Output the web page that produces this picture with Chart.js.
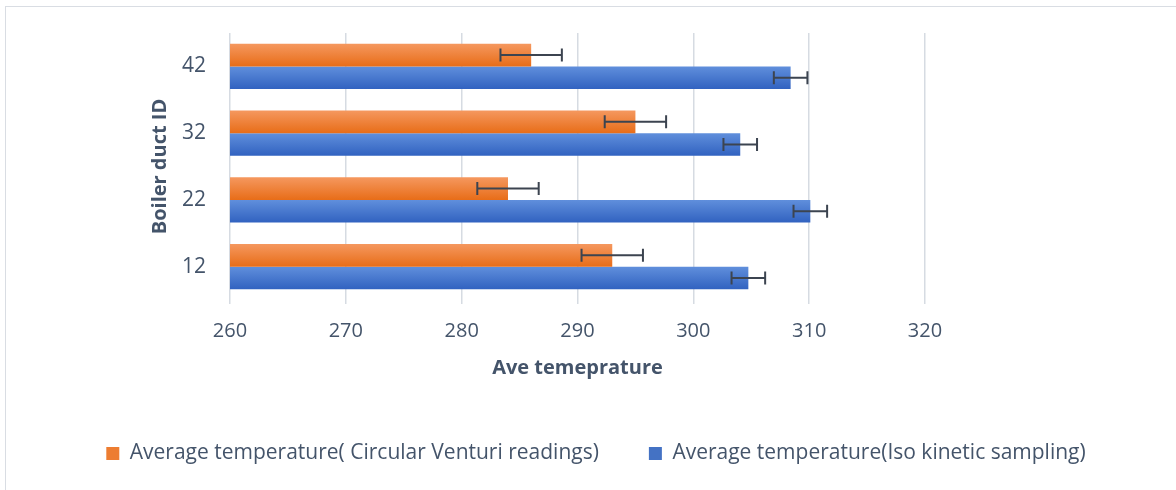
<!DOCTYPE html>
<html>
<head>
<meta charset="utf-8">
<script src="https://cdn.jsdelivr.net/npm/chart.js@4.4.0/dist/chart.umd.min.js"></script>
<style>
  html, body { margin: 0; padding: 0; background: #fff; }
  #wrap { position: relative; width: 1176px; height: 490px; overflow: hidden; }
  #frame { position: absolute; left: 5px; top: 6px; width: 1200px; height: 520px; border: 1px solid #d9dde3; }
  canvas { position: absolute; left: 0; top: 0; }
</style>
</head>
<body>
<div id="wrap">
  <div id="frame"></div>
  <canvas id="boilerChart" width="1176" height="490"></canvas>
</div>
<script>
// duct IDs, listed top to bottom as drawn
const ductIds = ['42', '32', '22', '12'];
const venturiTemps = [286.0, 295.0, 284.0, 293.0];
const venturiErr = [2.65, 2.65, 2.65, 2.65];
const isoTemps = [308.4, 304.05, 310.1, 304.75];
const isoErr = [1.45, 1.45, 1.45, 1.45];
const xMin = 260, xMax = 320, xStep = 10;

const seriesNames = [
  'Average temperature( Circular Venturi readings)',
  'Average temperature(Iso kinetic sampling)'
];

const textColor = '#44546a';
const fontFamily = '"Open Sans", "Noto Sans", sans-serif';
const groupShare = 0.68;

// vertical gradient for each bar, worked out from the category scale
function barGradient(topColor, bottomColor) {
  return function (context) {
    const chart = context.chart;
    const yScale = chart.scales.y;
    if (!chart.chartArea || !yScale || context.dataIndex === undefined) return bottomColor;
    const center = yScale.getPixelForValue(context.dataIndex);
    const half = chart.chartArea.height / ductIds.length * groupShare / 2;
    const y0 = context.datasetIndex === 0 ? center - half : center;
    const y1 = context.datasetIndex === 0 ? center : center + half;
    const g = chart.ctx.createLinearGradient(0, y0, 0, y1);
    g.addColorStop(0, topColor);
    g.addColorStop(1, bottomColor);
    return g;
  };
}

// error bars drawn on top of the bars
const errorBarPlugin = {
  id: 'errorBars',
  afterDatasetsDraw(chart) {
    const ctx = chart.ctx;
    const x = chart.scales.x;
    const sets = [[venturiTemps, venturiErr], [isoTemps, isoErr]];
    ctx.save();
    ctx.strokeStyle = '#3c4450';
    ctx.lineWidth = 2;
    sets.forEach(([vals, errs], di) => {
      chart.getDatasetMeta(di).data.forEach((bar, i) => {
        const y = bar.y;
        const xl = x.getPixelForValue(vals[i] - errs[i]);
        const xr = x.getPixelForValue(vals[i] + errs[i]);
        ctx.beginPath();
        ctx.moveTo(xl, y); ctx.lineTo(xr, y);
        ctx.moveTo(xl, y - 6.5); ctx.lineTo(xl, y + 6.5);
        ctx.moveTo(xr, y - 6.5); ctx.lineTo(xr, y + 6.5);
        ctx.stroke();
      });
    });
    ctx.restore();
  }
};

new Chart(document.getElementById('boilerChart'), {
  type: 'bar',
  data: {
    labels: ductIds,
    datasets: [{
      label: seriesNames[0],
      data: venturiTemps,
      yAxisID: 'y',
      backgroundColor: barGradient('#f5985f', '#e86d18'),
      barPercentage: 1,
      categoryPercentage: groupShare
    }, {
      label: seriesNames[1],
      data: isoTemps,
      yAxisID: 'y',
      backgroundColor: barGradient('#608fdc', '#3162c0'),
      barPercentage: 1,
      categoryPercentage: groupShare
    }]
  },
  options: {
    indexAxis: 'y',
    responsive: false,
    animation: false,
    devicePixelRatio: 1,
    layout: { padding: { top: 33, left: 16, right: 0, bottom: 16 } },
    scales: {
      y: {
        position: 'left',
        grid: { display: false },
        border: { display: false },
        ticks: { color: textColor, font: { family: fontFamily, size: 21 }, padding: 16 },
        title: {
          display: true,
          text: 'Boiler duct ID',
          color: textColor,
          font: { family: fontFamily, size: 20, weight: 'bold' },
          padding: { top: 132, bottom: 0 }
        },
        afterFit(scale) { scale.width = 214; }
      },
      y2: {
        type: 'linear',
        position: 'right',
        grid: { display: false },
        border: { display: false },
        ticks: { display: false },
        afterFit(scale) { scale.width = 251; }
      },
      x: {
        min: xMin,
        max: xMax,
        grid: { color: '#d6dbe2', lineWidth: 1.5, tickLength: 4, tickColor: '#d6dbe2' },
        border: { display: false },
        ticks: { stepSize: xStep, color: textColor, font: { family: fontFamily, size: 20 }, padding: 15 },
        title: {
          display: true,
          text: 'Ave temeprature',
          color: textColor,
          font: { family: fontFamily, size: 20, weight: 'bold' },
          padding: { top: 0, bottom: 13 }
        },
        afterFit(scale) { scale.height = 93; }
      }
    },
    plugins: {
      legend: {
        position: 'bottom',
        labels: {
          color: textColor,
          font: { family: fontFamily, size: 21 },
          boxWidth: 13,
          boxHeight: 13,
          padding: 50,
          generateLabels(chart) {
            const solid = ['#ed7d31', '#4472c4'];
            return chart.data.datasets.map((ds, i) => ({
              text: ds.label,
              fillStyle: solid[i],
              strokeStyle: solid[i],
              lineWidth: 0,
              fontColor: textColor,
              datasetIndex: i
            }));
          }
        }
      },
      tooltip: { enabled: false }
    }
  },
  plugins: [errorBarPlugin]
});
</script>
</body>
</html>
